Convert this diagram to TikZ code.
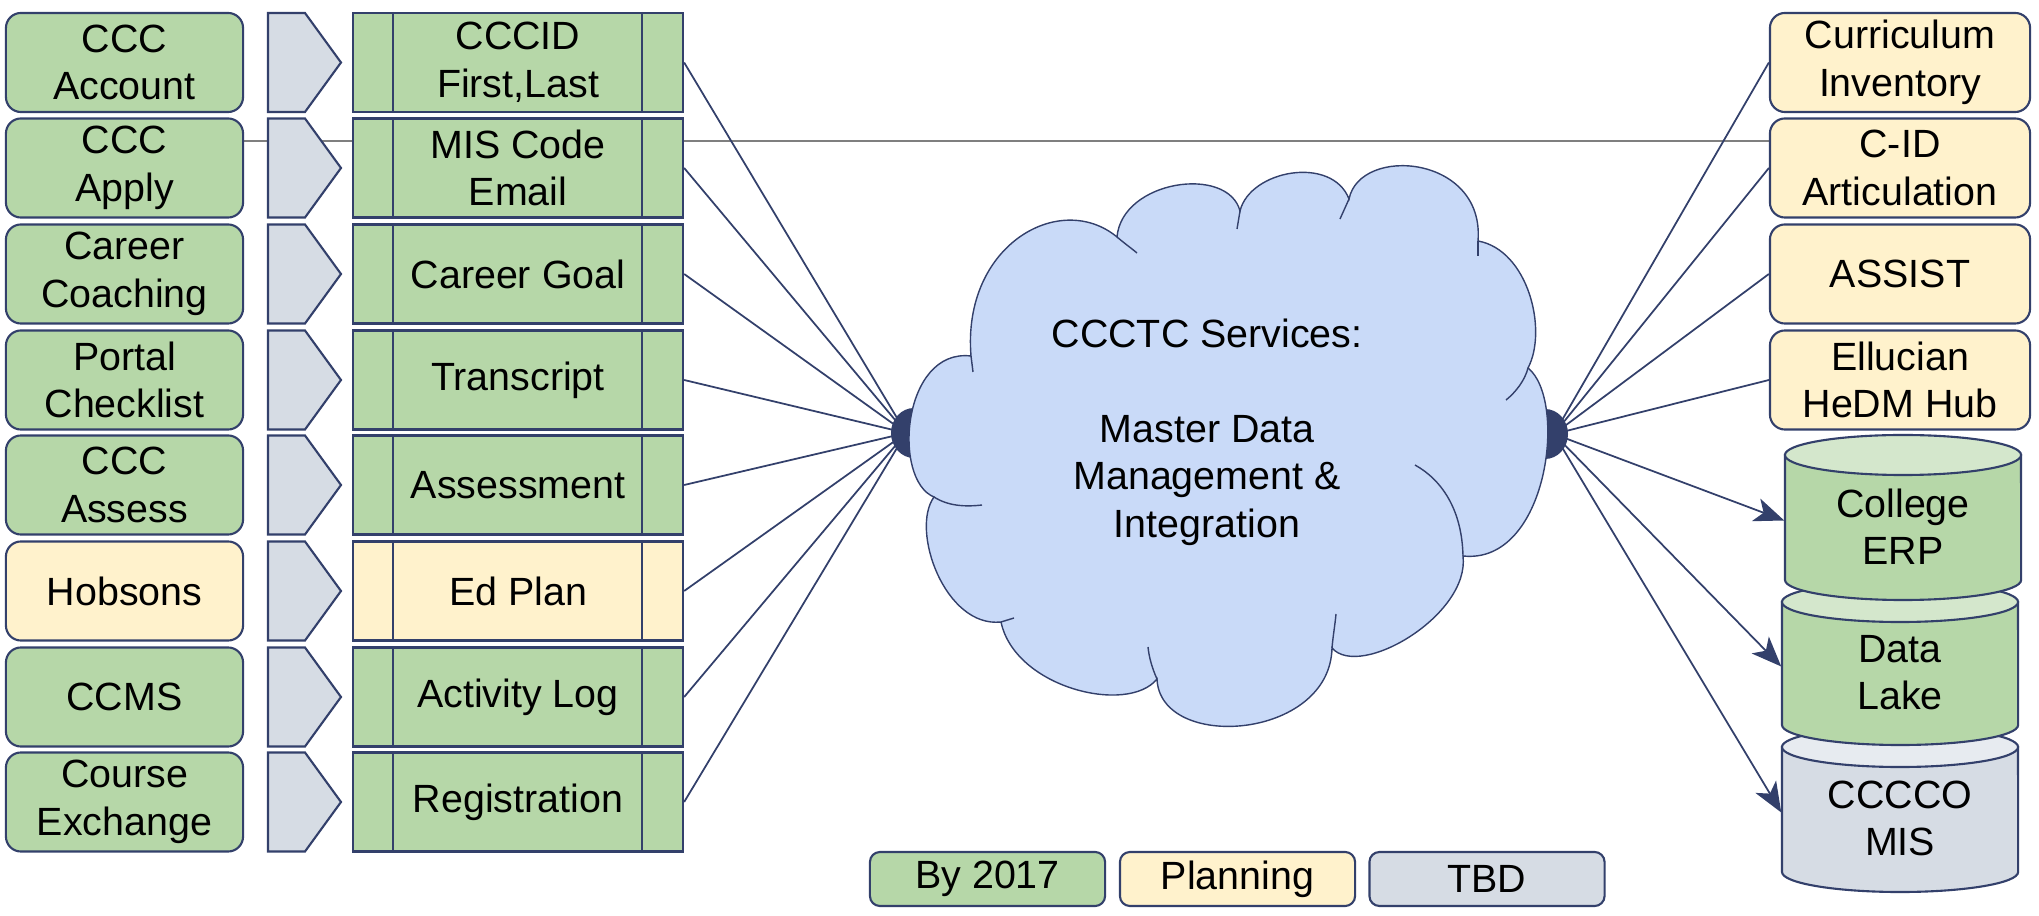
\documentclass[tikz,border=0pt]{standalone}
\usepackage{fontspec}
\setmainfont{Liberation Sans}
\usetikzlibrary{arrows.meta,backgrounds}
\definecolor{navy}{HTML}{33406B}
\definecolor{grn}{HTML}{B6D7A8}
\definecolor{grnlt}{HTML}{D4E7CC}
\definecolor{ylw}{HTML}{FFF2CC}
\definecolor{tbd}{HTML}{D6DCE4}
\definecolor{tbdlt}{HTML}{E7EBF0}
\definecolor{sky}{HTML}{C9DAF8}
\definecolor{grayline}{HTML}{7F7F7F}
\tikzset{
  outl/.style={draw=navy, line width=0.6pt},
  tile/.style={outl, rounded corners=0.15cm, minimum width=2.37cm, minimum height=0.99cm, align=center, inner sep=0pt},
  midbox/.style={outl, minimum width=3.3cm, minimum height=0.99cm, align=center, inner sep=0pt},
  chev/.style={outl, fill=tbd},
  keybox/.style={outl, rounded corners=0.1cm, minimum width=2.35cm, minimum height=0.54cm, inner sep=0pt},
  link/.style={draw=navy, line width=0.5pt},
  feed/.style={link, -{Stealth[length=0.3cm, width=0.24cm, inset=0.08cm]}},
  grayrule/.style={draw=grayline, line width=0.8pt},
  cloudline/.style={draw=navy, line width=0.4pt}
}
\def\chevron#1{\draw[chev] (268,#1) ++(0,-49.5) -- ++(37,0) -- ++(36,49.5) -- ++(-36,49.5) -- ++(-37,0) -- cycle;}
\def\procbox#1#2#3#4{\node[midbox, fill=#3] (#1) at (518,#2) {#4};
  \draw[outl] (#1.north west) ++(41,0) -- ++(0,99);
  \draw[outl] (#1.north east) ++(-42,0) -- ++(0,99);}
\def\drum#1#2#3#4#5#6#7{\draw[outl, fill=#5] (#2-118,#3) -- (#2-118,#4) arc[start angle=180, end angle=360, x radius=1.18cm, y radius=0.2cm] -- (#2+118,#3) -- cycle;
  \draw[outl, fill=#6] (#2,#3) ellipse [x radius=1.18cm, y radius=0.2cm];
  \node[align=center, minimum width=2.36cm, minimum height=1.2cm, inner sep=0pt] (#1) at (#2,{(#3+#4)/2+9}) {#7};}

\begin{document}
\begin{tikzpicture}[x=0.01cm, y=-0.01cm, font=\fontsize{11.2pt}{13.5pt}\selectfont]
	%%%%% START %%%%%
	\useasboundingbox (0,0) rectangle (2039,916);
	
	\node[tile, fill=grn] (src1) at (124.5,62.5) {CCC\\Account};
	\node[tile, fill=grn] (src2) at (124.5,168) {CCC\\Apply};
	\node[tile, fill=grn] (src3) at (124.5,274) {Career\\Coaching};
	\node[tile, fill=grn] (src4) at (124.5,380) {Portal\\Checklist};
	\node[tile, fill=grn] (src5) at (124.5,485) {CCC\\Assess};
	\node[tile, fill=ylw] (src6) at (124.5,591) {Hobsons};
	\node[tile, fill=grn] (src7) at (124.5,697) {CCMS};
	\node[tile, fill=grn] (src8) at (124.5,802) {Course\\Exchange};
	
	\chevron{62.5} \chevron{168} \chevron{274} \chevron{380}
	\chevron{485} \chevron{591} \chevron{697} \chevron{802}
	
	\procbox{mid1}{62.5}{grn}{CCCID\\First,Last}
	\procbox{mid2}{168}{grn}{MIS Code\\Email}
	\procbox{mid3}{274}{grn}{Career Goal}
	\procbox{mid4}{380}{grn}{Transcript}
	\procbox{mid5}{485}{grn}{Assessment}
	\procbox{mid6}{591}{ylw}{Ed Plan}
	\procbox{mid7}{697}{grn}{Activity Log}
	\procbox{mid8}{802}{grn}{Registration}
	
	\node[tile, fill=ylw, minimum width=2.6cm] (curric) at (1900,62.5) {Curriculum\\Inventory};
	\node[tile, fill=ylw, minimum width=2.6cm] (cid) at (1900,168) {C-ID\\Articulation};
	\node[tile, fill=ylw, minimum width=2.6cm] (assist) at (1900,274) {ASSIST};
	\node[tile, fill=ylw, minimum width=2.6cm] (hedm) at (1900,380) {Ellucian\\HeDM Hub};
	
	\begin{scope}[on background layer]
		\draw[grayrule] ([yshift=0.27cm]src2.east) -- ([yshift=0.27cm]cid.west);
	\end{scope}
	
	\coordinate (hubL) at (906,433);
	\coordinate (hubR) at (1554,434);
	
	\draw[link] (mid1.east) -- (hubL);
	\draw[link] (mid2.east) -- (hubL);
	\draw[link] (mid3.east) -- (hubL);
	\draw[link] (mid4.east) -- (hubL);
	\draw[link] (mid5.east) -- (hubL);
	\draw[link] (mid6.east) -- (hubL);
	\draw[link] (mid7.east) -- (hubL);
	\draw[link] (mid8.east) -- (hubL);
	
	\draw[link] (hubR) -- (curric.west);
	\draw[link] (hubR) -- (cid.west);
	\draw[link] (hubR) -- (assist.west);
	\draw[link] (hubR) -- (hedm.west);
	
	\drum{mis}{1900}{747}{872}{tbd}{tbdlt}{CCCCO\\MIS}
	\drum{lake}{1900}{602}{725}{grn}{grnlt}{Data\\Lake}
	\drum{erp}{1903}{455}{580}{grn}{grnlt}{College\\ERP}
	
	\draw[feed] (hubR) -- ([yshift=0.06cm]erp.west);
	\draw[feed] (hubR) -- ([yshift=0.06cm]lake.west);
	\draw[feed] (hubR) -- ([yshift=0.06cm]mis.west);
	
	\fill[navy] (914,433) ellipse [x radius=0.23cm, y radius=0.25cm];
	\fill[navy] (1545,434) ellipse [x radius=0.23cm, y radius=0.25cm];
	
	\draw[cloudline, fill=sky] (971,356) .. controls (962,245) and (1060,190) .. (1117,237)
		.. controls (1122,180) and (1228,165) .. (1240,211)
		.. controls (1250,170) and (1332,155) .. (1349,199)
		.. controls (1360,145) and (1485,155) .. (1478,241)
		.. controls (1528,250) and (1548,330) .. (1528,368)
		.. controls (1568,400) and (1548,565) .. (1463,556)
		.. controls (1470,615) and (1360,680) .. (1332,648)
		.. controls (1330,740) and (1160,752) .. (1157,679)
		.. controls (1128,715) and (1015,688) .. (1001,622)
		.. controls (945,628) and (910,530) .. (934,497)
		.. controls (892,480) and (902,348) .. (971,356) -- cycle;
	\draw[cloudline] (934,497) .. controls (948,506) and (965,507) .. (982,505);
	\draw[cloudline] (1463,556) .. controls (1462,510) and (1442,480) .. (1415,465);
	\draw[cloudline] (1528,368) .. controls (1525,380) and (1516,392) .. (1506,400);
	\draw[cloudline] (1157,679) .. controls (1152,668) and (1149,657) .. (1148,647);
	\draw[cloudline] (1332,648) .. controls (1333,636) and (1335,625) .. (1336,614);
	\draw[cloudline] (1117,237) .. controls (1124,243) and (1131,248) .. (1137,253);
	\draw[cloudline] (1240,211) -- (1237,229);
	\draw[cloudline] (1349,199) -- (1340,219);
	\draw[cloudline] (1478,241) -- (1478,256);
	\draw[cloudline] (1001,622) -- (1014,618);
	\draw[cloudline] (971,356) -- (973,372);
	
	\node[align=center] (mdm) at (1207,432) {CCCTC Services:\\~\\Master Data\\Management \&\\Integration};
	
	\node[keybox, fill=grn] (k1) at (987.5,879) {By 2017};
	\node[keybox, fill=ylw] (k2) at (1237.5,879) {Planning};
	\node[keybox, fill=tbd] (k3) at (1487,879) {TBD};
	%%%%% END %%%%%
\end{tikzpicture}
\end{document}
